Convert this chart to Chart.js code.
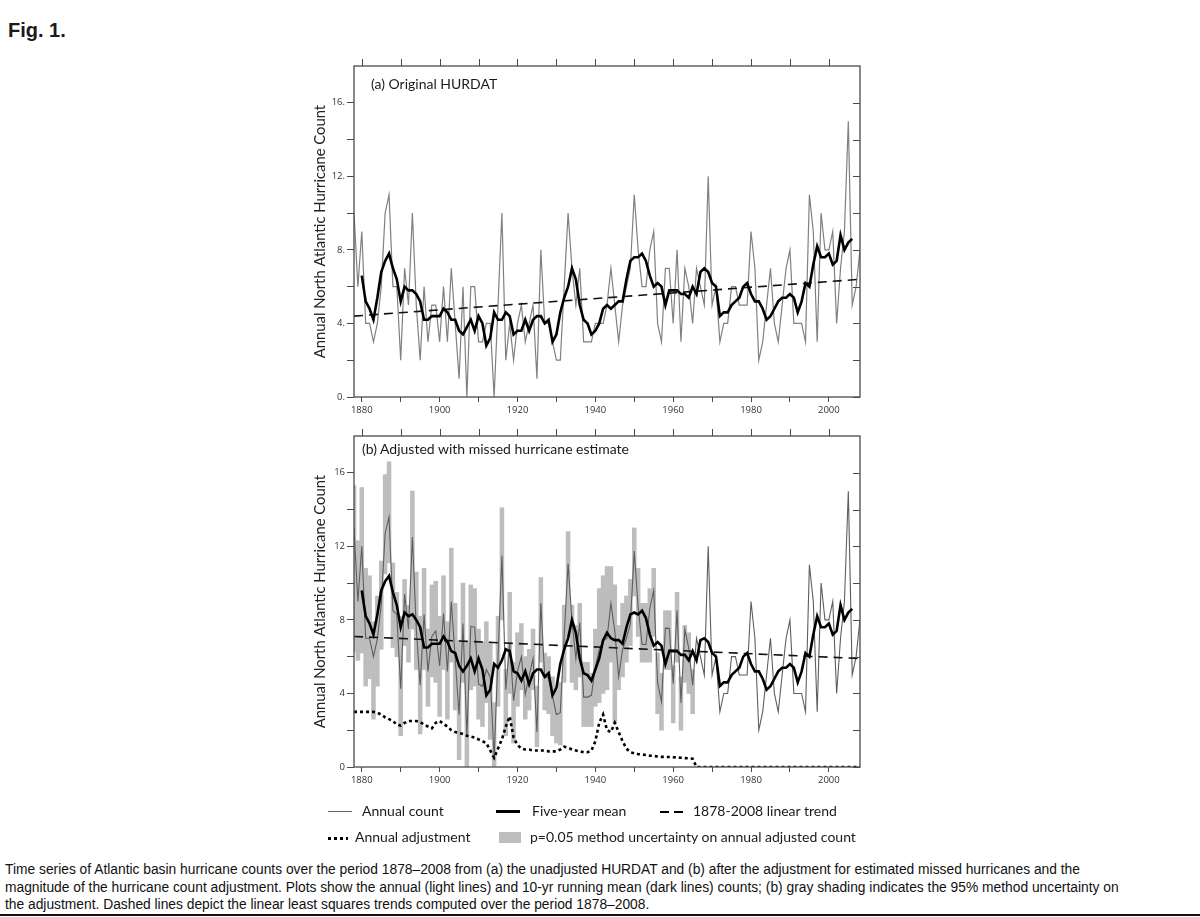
<!DOCTYPE html>
<html>
<head>
<meta charset="utf-8">
<title>Fig. 1 - Atlantic hurricane counts 1878-2008</title>
<script src="https://cdn.jsdelivr.net/npm/chart.js@4.4.1/dist/chart.umd.min.js"></script>
<style>
  html, body { margin: 0; background: #fff; }
  #page { position: relative; width: 1200px; height: 917px; overflow: hidden; color: #1a1a1a; }
  .abs { position: absolute; white-space: nowrap; }
  canvas { position: absolute; }
  #fig { left: 8px; top: 19px; font: bold 20px 'Liberation Sans', Arial, sans-serif; }
  .ptitle { font: 14px Lato, 'Open Sans', sans-serif; line-height: 18px; }
  .leg { font: 14px Lato, 'Open Sans', sans-serif; line-height: 18px; }
  .caption { left: 5px; top: 861px; font: 13.8px/17.5px 'Liberation Sans', Arial, sans-serif; color: #111; }
  #rule { left: 0; top: 914px; width: 1200px; height: 2px; background: #111; }
</style>
</head>
<body>
<div id="page">
  <div id="fig" class="abs">Fig. 1.</div>

  <canvas id="chartA" width="600" height="382" style="left:280px; top:40px;"></canvas>
  <canvas id="chartB" width="600" height="382" style="left:280px; top:410px;"></canvas>

  <div class="abs ptitle" style="left:371px; top:75px;">(a) Original HURDAT</div>
  <div class="abs ptitle" style="left:362px; top:440px;">(b) Adjusted with missed hurricane estimate</div>

  <!-- legend -->
  <div class="abs" style="left:328px; top:811px; width:24px; border-top:1px solid #666;"></div>
  <div class="abs leg" style="left:362px; top:802px;">Annual count</div>
  <div class="abs" style="left:496px; top:810px; width:24px; border-top:3px solid #000;"></div>
  <div class="abs leg" style="left:532px; top:802px;">Five-year mean</div>
  <div class="abs" style="left:660px; top:811px; width:9px; border-top:2px solid #000;"></div>
  <div class="abs" style="left:674px; top:811px; width:9px; border-top:2px solid #000;"></div>
  <div class="abs leg" style="left:693px; top:802px;">1878-2008 linear trend</div>

  <div class="abs" style="left:328px; top:837px; width:20px; height:3px; background:repeating-linear-gradient(90deg,#000 0 3px,transparent 3px 6px);"></div>
  <div class="abs leg" style="left:355px; top:828px;">Annual adjustment</div>
  <div class="abs" style="left:499px; top:832px; width:22px; height:11px; background:#bdbdbd;"></div>
  <div class="abs leg" style="left:530px; top:828px;">p=0.05 method uncertainty on annual adjusted count</div>

  <div class="abs caption">Time series of Atlantic basin hurricane counts over the period 1878–2008 from (a) the unadjusted HURDAT and (b) after the adjustment for estimated missed hurricanes and the<br>magnitude of the hurricane count adjustment. Plots show the annual (light lines) and 10-yr running mean (dark lines) counts; (b) gray shading indicates the 95% method uncertainty on<br>the adjustment. Dashed lines depict the linear least squares trends computed over the period 1878–2008.</div>
  <div id="rule" class="abs"></div>
</div>

<script>
'use strict';
// ---------- Data ------------- //
const firstYear = 1878;
const lastYear = 2008;
let years = [];
for (let yr = firstYear; yr <= lastYear; yr++) {
  years.push(yr);
}

// (a) original HURDAT, annual count 1878-2008
const annualCount = [
  10, 6, 9, 4, 4, 3, 4, 6, 10, 11,
  6, 6, 2, 7, 5, 10, 5, 2, 6, 3,
  5, 5, 3, 6, 3, 7, 4, 1, 6, 0,
  6, 6, 3, 3, 4, 4, 0, 5, 10, 2,
  4, 2, 4, 5, 3, 4, 5, 1, 8, 4,
  4, 3, 2, 2, 6, 10, 7, 5, 7, 3,
  3, 3, 4, 4, 4, 5, 7, 5, 3, 5,
  6, 7, 11, 8, 6, 6, 8, 9, 4, 3,
  7, 7, 4, 8, 3, 7, 6, 4, 7, 6,
  5, 12, 5, 6, 3, 4, 4, 6, 6, 5,
  5, 5, 9, 7, 2, 3, 5, 7, 4, 3,
  5, 7, 8, 4, 4, 4, 3, 11, 9, 3,
  10, 8, 8, 9, 4, 7, 9, 15, 5, 6,
  8
];

// five-year mean, 1880-2006
const meanStart = 1880;
const fiveYearMean = [
  6.6, 5.2, 4.8, 4.2, 5.4, 6.8, 7.4, 7.8, 7.0, 6.4,
  5.2, 6.0, 5.8, 5.8, 5.6, 5.2, 4.2, 4.2, 4.4, 4.4,
  4.4, 4.8, 4.6, 4.2, 4.2, 3.6, 3.4, 3.8, 4.2, 3.6,
  4.4, 4.0, 2.8, 3.2, 4.6, 4.2, 4.2, 4.6, 4.4, 3.4,
  3.6, 3.6, 4.2, 3.6, 4.2, 4.4, 4.4, 4.0, 4.2, 3.0,
  3.4, 4.6, 5.4, 6.0, 7.0, 6.4, 5.0, 4.2, 4.0, 3.4,
  3.6, 4.0, 4.8, 5.0, 4.8, 5.0, 5.2, 5.2, 6.4, 7.4,
  7.6, 7.6, 7.8, 7.4, 6.6, 6.0, 6.2, 6.0, 5.0, 5.8,
  5.8, 5.8, 5.6, 5.6, 5.4, 6.0, 5.6, 6.8, 7.0, 6.8,
  6.2, 6.0, 4.4, 4.6, 4.6, 5.0, 5.2, 5.4, 6.0, 6.2,
  5.6, 5.2, 5.2, 4.8, 4.2, 4.4, 4.8, 5.2, 5.4, 5.4,
  5.6, 5.4, 4.6, 5.2, 6.2, 6.0, 7.2, 8.2, 7.6, 7.6,
  7.8, 7.2, 7.4, 8.8, 8.0, 8.4, 8.6
];

// (b) adjusted annual count 1878-2008
const adjustedCount = [
  13.0, 9.0, 12.0, 7.0, 7.0, 6.0, 6.95, 8.85, 12.7, 13.6,
  8.5, 8.3, 4.25, 9.4, 7.5, 12.5, 7.5, 4.45, 8.3, 5.2,
  7.1, 7.4, 5.5, 8.35, 5.2, 9.0, 5.9, 2.85, 7.8, 1.7,
  7.65, 7.6, 4.5, 4.4, 5.3, 4.9, 0.5, 6.0, 11.5, 4.2,
  6.75, 3.6, 5.2, 6.0, 3.95, 4.95, 5.9, 1.9, 8.9, 4.9,
  4.85, 3.85, 2.85, 2.95, 7.1, 11.05, 7.95, 5.9, 7.85, 3.8,
  3.8, 3.9, 5.4, 6.4, 6.85, 7.0, 8.9, 7.4, 4.9, 6.4,
  7.0, 7.8, 11.75, 8.7, 6.68, 6.65, 8.62, 9.6, 4.57, 3.55,
  7.55, 7.54, 4.53, 8.52, 3.5, 7.48, 6.47, 4.45, 7, 6,
  5, 12, 5, 6, 3, 4, 4, 6, 6, 5,
  5, 5, 9, 7, 2, 3, 5, 7, 4, 3,
  5, 7, 8, 4, 4, 4, 3, 11, 9, 3,
  10, 8, 8, 9, 4, 7, 9, 15, 5, 6,
  8
];

// (b) five-year mean of adjusted count, 1880-2006
const fiveYearMeanAdj = [
  9.6, 8.2, 7.8, 7.2, 8.3, 9.6, 10.1, 10.4, 9.5, 8.8,
  7.6, 8.4, 8.2, 8.3, 8.0, 7.6, 6.5, 6.5, 6.7, 6.7,
  6.7, 7.1, 6.8, 6.3, 6.2, 5.5, 5.2, 5.5, 5.9, 5.2,
  5.9, 5.3, 3.9, 4.2, 5.6, 5.4, 5.8, 6.4, 6.3, 5.2,
  5.1, 4.7, 5.2, 4.5, 5.1, 5.3, 5.3, 4.9, 5.1, 3.9,
  4.3, 5.6, 6.4, 7.0, 8.0, 7.3, 5.9, 5.1, 5.0, 4.7,
  5.3, 5.9, 6.9, 7.3, 7.0, 6.9, 6.9, 6.7, 7.6, 8.3,
  8.4, 8.3, 8.5, 8.1, 7.2, 6.6, 6.8, 6.6, 5.6, 6.3,
  6.3, 6.3, 6.1, 6.1, 5.8, 6.3, 5.8, 6.9, 7.0, 6.8,
  6.2, 6.0, 4.4, 4.6, 4.6, 5.0, 5.2, 5.4, 6.0, 6.2,
  5.6, 5.2, 5.2, 4.8, 4.2, 4.4, 4.8, 5.2, 5.4, 5.4,
  5.6, 5.4, 4.6, 5.2, 6.2, 6.0, 7.2, 8.2, 7.6, 7.6,
  7.8, 7.2, 7.4, 8.8, 8.0, 8.4, 8.6
];

// annual adjustment (missed hurricanes), 1878-2008
const annualAdjustment = [
  3.0, 3.0, 3.0, 3.0, 3.0, 3.0, 2.95, 2.85, 2.7, 2.6,
  2.5, 2.3, 2.25, 2.4, 2.5, 2.5, 2.5, 2.45, 2.3, 2.2,
  2.1, 2.4, 2.5, 2.35, 2.2, 2.0, 1.9, 1.85, 1.8, 1.7,
  1.65, 1.6, 1.5, 1.4, 1.3, 0.9, 0.5, 1.0, 1.5, 2.2,
  2.75, 1.6, 1.2, 1.0, 0.95, 0.95, 0.9, 0.9, 0.9, 0.9,
  0.85, 0.85, 0.85, 0.95, 1.1, 1.05, 0.95, 0.9, 0.85, 0.8,
  0.8, 0.9, 1.4, 2.4, 2.85, 2.0, 1.9, 2.4, 1.9, 1.4,
  1.0, 0.8, 0.75, 0.7, 0.68, 0.65, 0.62, 0.6, 0.57, 0.55,
  0.55, 0.54, 0.53, 0.52, 0.5, 0.48, 0.47, 0.45, 0, 0,
  0, 0, 0, 0, 0, 0, 0, 0, 0, 0,
  0, 0, 0, 0, 0, 0, 0, 0, 0, 0,
  0, 0, 0, 0, 0, 0, 0, 0, 0, 0,
  0, 0, 0, 0, 0, 0, 0, 0, 0, 0,
  0
];

// p=0.05 uncertainty range of the adjusted count, 1878-1965
const uncLow = [
  6.3, 5.8, 6.2, 4.4, 4.8, 2.6, 4.4, 6.4, 10.5, 11.1,
  6.5, 6.0, 1.7, 6.6, 5.7, 7.5, 5.3, 1.8, 5.3, 3.3,
  4.9, 4.6, 2.75, 5.3, 2.6, 5.7, 3.1, 0.4, 4.6, 0.0,
  4.2, 4.4, 2.6, 2.2, 3.5, 1.5, 0.0, 3.3, 8.0, 1.7,
  4.0, 1.3, 3.3, 4.2, 2.6, 3.1, 4.2, 1.1, 5.7, 3.1,
  2.9, 1.7, 1.3, 1.2, 4.6, 7.1, 4.6, 4.2, 4.9, 2.2,
  2.2, 2.2, 3.3, 3.5, 4.0, 4.2, 5.7, 2.4, 4.2, 4.9,
  5.7, 6.6, 9.3, 7.1, 5.7, 5.7, 5.7, 7.1, 2.9, 2.0,
  5.3, 5.3, 2.4, 5.7, 2.0, 4.6, 4.0, 2.9
];
const uncHigh = [
  15.3, 12.3, 15.2, 10.8, 10.4, 7.9, 9.3, 11.2, 15.9, 16.6,
  11.1, 9.5, 8.2, 10.2, 8.8, 15.0, 10.6, 8.2, 10.8, 7.5,
  9.9, 10.1, 8.2, 10.4, 7.9, 11.9, 8.9, 6.9, 10.0, 6.8,
  9.9, 9.7, 7.5, 6.8, 7.9, 6.8, 3.5, 8.2, 14.1, 5.3,
  9.5, 5.7, 7.3, 7.8, 6.0, 6.4, 7.5, 4.4, 10.3, 6.2,
  6.0, 4.9, 4.2, 4.6, 8.8, 12.8, 8.8, 7.7, 8.9, 5.7,
  5.7, 5.1, 7.5, 9.7, 10.4, 10.9, 10.9, 9.9, 7.7, 8.9,
  9.3, 10.2, 13.0, 10.8, 8.9, 8.9, 9.7, 10.8, 6.2, 5.1,
  8.5, 8.5, 5.5, 9.5, 4.9, 7.7, 7.3, 5.3
];

// 1878-2008 linear trend end points
const trendYears = [1878, 2008];
const trendA = [4.4, 6.4];
const trendB = [7.1, 5.9];

// tick marks
const xTicks = [1880, 1890, 1900, 1910, 1920, 1930, 1940, 1950, 1960, 1970, 1980, 1990, 2000];
const yTicks = [0, 2, 4, 6, 8, 10, 12, 14, 16];

// ---------- Helpers ------------- //
function toPoints(values, start) {
  return values.map((v, i) => ({ x: start + i, y: v }));
}

// frame round the plot plus the top and right tick marks
const frameTicks = {
  id: 'frameTicks',
  afterDraw(chart) {
    const { ctx, chartArea: a, scales } = chart;
    ctx.save();
    ctx.strokeStyle = '#4a4a4a';
    ctx.lineWidth = 1.3;
    ctx.strokeRect(a.left, a.top, a.right - a.left, a.bottom - a.top);
    ctx.beginPath();
    xTicks.forEach(v => {
      const px = Math.round(scales.x.getPixelForValue(v)) + 0.5;
      ctx.moveTo(px, a.top);
      ctx.lineTo(px, a.top - 7);
    });
    yTicks.forEach(v => {
      const py = Math.round(scales.y.getPixelForValue(v)) + 0.5;
      ctx.moveTo(a.right, py);
      ctx.lineTo(a.right - 7, py);
    });
    ctx.lineWidth = 1;
    ctx.stroke();
    ctx.restore();
  }
};

function makeOptions(labelSuffix) {
  const tickFont = { family: "'Open Sans', sans-serif", size: 9.5 };
  return {
    responsive: false,
    animation: false,
    devicePixelRatio: 1,
    layout: { padding: { left: 31, top: 26, right: 20, bottom: 0 } },
    plugins: { legend: { display: false }, tooltip: { enabled: false } },
    elements: { point: { radius: 0 }, line: { tension: 0 } },
    scales: {
      x: {
        type: 'linear',
        min: firstYear,
        max: lastYear,
        offset: false,
        afterBuildTicks: s => { s.ticks = xTicks.map(v => ({ value: v })); },
        afterFit: s => { s.height = 25; },
        ticks: {
          autoSkip: false,
          maxRotation: 0,
          padding: 3,
          color: '#333',
          font: tickFont,
          callback: v => (v % 20 === 0 ? String(v) : '')
        },
        grid: { drawOnChartArea: false, offset: false, tickLength: 5, color: '#4a4a4a' },
        border: { display: false }
      },
      y: {
        type: 'linear',
        min: 0,
        max: 18,
        afterBuildTicks: s => { s.ticks = yTicks.map(v => ({ value: v })); },
        afterFit: s => { s.width = 43; },
        ticks: {
          autoSkip: false,
          padding: 2,
          color: '#333',
          font: tickFont,
          callback: v => (v % 4 === 0 ? v + labelSuffix : '')
        },
        grid: { drawOnChartArea: false, tickLength: 7, color: '#4a4a4a' },
        border: { display: false },
        title: {
          display: true,
          text: 'Annual North Atlantic Hurricane Count',
          color: '#222',
          padding: { top: 0, bottom: 0 },
          font: { family: "Lato, 'Open Sans', sans-serif", size: 14.8 }
        }
      }
    }
  };
}

// ---------- Panel (a) ------------- //
new Chart(document.getElementById('chartA'), {
  type: 'line',
  data: {
    datasets: [
      {
        label: 'Annual count',
        data: toPoints(annualCount, firstYear),
        borderColor: '#808080',
        borderWidth: 1.2,
        order: 3
      },
      {
        label: '1878-2008 linear trend',
        data: trendYears.map((yr, i) => ({ x: yr, y: trendA[i] })),
        borderColor: '#111',
        borderWidth: 1.6,
        borderDash: [9, 6],
        order: 2
      },
      {
        label: 'Five-year mean',
        data: toPoints(fiveYearMean, meanStart),
        borderColor: '#000',
        borderWidth: 2.6,
        order: 1
      }
    ]
  },
  options: makeOptions('.'),
  plugins: [frameTicks]
});

// ---------- Panel (b) ------------- //
new Chart(document.getElementById('chartB'), {
  type: 'line',
  data: {
    datasets: [
      {
        type: 'bar',
        label: 'p=0.05 method uncertainty on annual adjusted count',
        data: uncLow.map((lo, i) => ({ x: firstYear + i, y: [lo, uncHigh[i]] })),
        backgroundColor: '#bdbdbd',
        borderWidth: 0,
        barPercentage: 1,
        categoryPercentage: 1,
        grouped: false,
        order: 5
      },
      {
        label: 'Annual count',
        data: toPoints(adjustedCount, firstYear),
        borderColor: '#5e5e5e',
        borderWidth: 1.1,
        order: 3
      },
      {
        label: '1878-2008 linear trend',
        data: trendYears.map((yr, i) => ({ x: yr, y: trendB[i] })),
        borderColor: '#111',
        borderWidth: 1.6,
        borderDash: [9, 6],
        order: 2
      },
      {
        label: 'Five-year mean',
        data: toPoints(fiveYearMeanAdj, meanStart),
        borderColor: '#000',
        borderWidth: 2.6,
        order: 1
      },
      {
        label: 'Annual adjustment',
        data: toPoints(annualAdjustment, firstYear),
        borderColor: '#000',
        borderWidth: 2.6,
        borderDash: [3, 3],
        order: 0
      }
    ]
  },
  options: makeOptions(''),
  plugins: [frameTicks]
});
</script>
</body>
</html>
